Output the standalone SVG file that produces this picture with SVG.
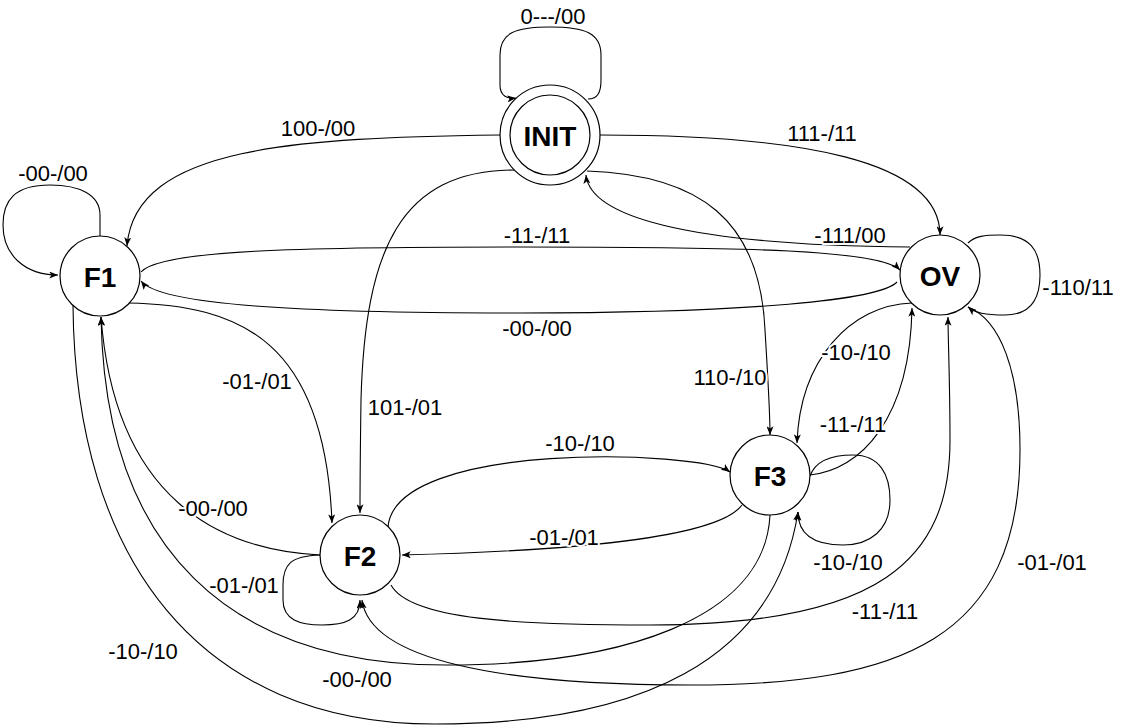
<svg xmlns="http://www.w3.org/2000/svg" width="1131" height="726" viewBox="0 0 1131 726">
  <style>
    .state { fill: #ffffff; stroke: #000000; stroke-width: 1.2; }
    .name { font-family: "Liberation Sans", Arial, sans-serif; font-size: 28px; font-weight: bold; fill: #000000; text-anchor: middle; dominant-baseline: central; }
    .edge { fill: none; stroke: #000000; stroke-width: 1.1; marker-end: url(#arrow); }
    .lbl { font-family: "Liberation Sans", Arial, sans-serif; font-size: 22px; fill: #000000; text-anchor: middle; dominant-baseline: central; stroke: #ffffff; stroke-width: 4; paint-order: stroke; stroke-linejoin: round; }
  </style>
  <defs>
    <marker id="arrow" viewBox="0 0 10 8" refX="10" refY="4" markerWidth="9" markerHeight="7" markerUnits="userSpaceOnUse" orient="auto">
      <path d="M0,0 L10,4 L0,8 L2.5,4 Z" fill="#000000"/>
    </marker>
  </defs>
  <rect width="1131" height="726" fill="#ffffff"/>

  <g id="connectors">
    <!-- INIT self loop -->
    <path class="edge" d="M 588 99 C 598 99 601 92 601 80 L 601 55 C 601 33 585 27 550 27 C 515 27 500 33 500 55 L 500 85 C 500 96 507 99 516 98"/>
    <!-- INIT -> F1 -->
    <path class="edge" d="M 500 135 C 300 138 135 145 127 246"/>
    <!-- INIT -> OV -->
    <path class="edge" d="M 600 135 C 800 135 940 160 940 235"/>
    <!-- OV -> INIT -->
    <path class="edge" d="M 910 247 C 680 245 590 215 586 175"/>
    <!-- F1 -> OV -->
    <path class="edge" d="M 141 272 C 160 250 300 247 520 247 C 750 247 880 250 900 270"/>
    <!-- OV -> F1 -->
    <path class="edge" d="M 897 282 C 880 300 750 313 520 313 C 300 313 160 305 141 281"/>
    <!-- INIT -> F2 -->
    <path class="edge" d="M 515 170 C 400 170 365 250 361 400 C 360 470 360 500 360 513"/>
    <!-- INIT -> F3 -->
    <path class="edge" d="M 587 171 C 700 175 760 220 765 330 C 768 380 770 410 770 435"/>
    <!-- F1 self loop -->
    <path class="edge" d="M 100 236 L 100 215 C 100 195 80 185 50 185 C 15 185 3 200 3 225 C 3 255 25 275 58 275"/>
    <!-- F1 -> F2 -->
    <path class="edge" d="M 128 303 C 240 305 325 340 332 523"/>
    <!-- F2 -> F1 -->
    <path class="edge" d="M 320 555 C 220 550 115 500 101 317"/>
    <!-- OV self loop -->
    <path class="edge" d="M 968 243 C 975 236 985 235 1000 235 C 1030 235 1040 250 1040 275 C 1040 305 1025 315 1005 315 C 985 315 975 313 968 307"/>
    <!-- OV -> F3 -->
    <path class="edge" d="M 912 303 C 850 305 800 360 797 443"/>
    <!-- F3 -> OV -->
    <path class="edge" d="M 810 475 C 860 470 910 420 912 308"/>
    <!-- F2 -> F3 -->
    <path class="edge" d="M 388 527 C 395 440 700 450 730 472"/>
    <!-- F3 -> F2 -->
    <path class="edge" d="M 742 505 C 720 535 600 550 402 555"/>
    <!-- F3 self loop -->
    <path class="edge" d="M 810 476 C 815 462 830 455 853 455 C 880 455 890 475 890 500 C 890 530 870 545 843 545 C 815 545 798 535 798 512"/>
    <!-- F2 self loop -->
    <path class="edge" d="M 320 555 C 290 556 283 565 283 585 L 283 600 C 283 620 300 625 322 625 C 345 625 360 620 360 600"/>
    <!-- F2 -> OV -->
    <path class="edge" d="M 391 585 C 410 620 520 625 650 625 C 880 625 950 560 950 440 C 950 380 948 340 948 317"/>
    <!-- OV -> F2 -->
    <path class="edge" d="M 968 307 C 1000 320 1020 370 1020 450 C 1020 640 900 685 690 685 C 500 685 370 660 362 600"/>
    <!-- F3 -> F1 -->
    <path class="edge" d="M 770 515 C 765 620 620 665 446 665 C 230 665 105 550 101 317"/>
    <!-- F1 -> F3 -->
    <path class="edge" d="M 73 305 C 75 560 200 724 435 724 C 640 724 775 660 798 512"/>
  </g>

  <g id="edge-labels">
    <text class="lbl" x="553" y="16">0---/00</text>
    <text class="lbl" x="318" y="128">100-/00</text>
    <text class="lbl" x="822" y="133">111-/11</text>
    <text class="lbl" x="53" y="173">-00-/00</text>
    <text class="lbl" x="850" y="235">-111/00</text>
    <text class="lbl" x="537" y="235">-11-/11</text>
    <text class="lbl" x="537" y="328">-00-/00</text>
    <text class="lbl" x="1078" y="287">-110/11</text>
    <text class="lbl" x="257" y="381">-01-/01</text>
    <text class="lbl" x="405" y="407">101-/01</text>
    <text class="lbl" x="730" y="377">110-/10</text>
    <text class="lbl" x="856" y="352">-10-/10</text>
    <text class="lbl" x="853" y="424">-11-/11</text>
    <text class="lbl" x="580" y="443">-10-/10</text>
    <text class="lbl" x="564" y="537">-01-/01</text>
    <text class="lbl" x="213" y="508">-00-/00</text>
    <text class="lbl" x="244" y="585">-01-/01</text>
    <text class="lbl" x="848" y="562">-10-/10</text>
    <text class="lbl" x="885" y="611">-11-/11</text>
    <text class="lbl" x="1052" y="562">-01-/01</text>
    <text class="lbl" x="143" y="651">-10-/10</text>
    <text class="lbl" x="357" y="679">-00-/00</text>
  </g>

  <g id="INIT">
    <circle class="state" cx="550" cy="135" r="50"/>
    <circle class="state" cx="550" cy="135" r="40"/>
    <text class="name" x="550" y="136">INIT</text>
  </g>
  <g id="F1">
    <circle class="state" cx="100" cy="276" r="40"/>
    <text class="name" x="100" y="277">F1</text>
  </g>
  <g id="OV">
    <circle class="state" cx="940" cy="275" r="40"/>
    <text class="name" x="940" y="276">OV</text>
  </g>
  <g id="F3">
    <circle class="state" cx="770" cy="475" r="40"/>
    <text class="name" x="770" y="476">F3</text>
  </g>
  <g id="F2">
    <circle class="state" cx="360" cy="555" r="40"/>
    <text class="name" x="360" y="556">F2</text>
  </g>
</svg>
